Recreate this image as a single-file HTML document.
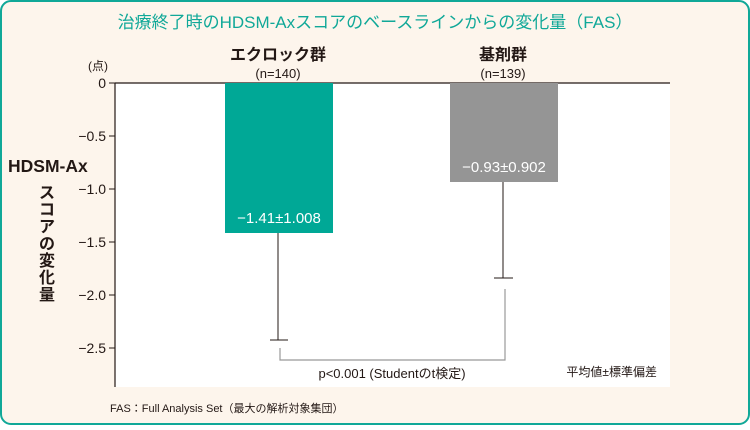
<!DOCTYPE html>
<html><head><meta charset="utf-8"><style>
body{margin:0;width:750px;height:425px;overflow:hidden;background:#fff}
</style></head><body>
<svg width="750" height="425" xmlns="http://www.w3.org/2000/svg" font-family="Liberation Sans, Noto Sans CJK JP, sans-serif">
<rect x="1" y="1" width="748" height="423" rx="10" fill="#fdf5ec" stroke="#10a898" stroke-width="2"/>
<text x="375" y="28" text-anchor="middle" font-size="17" fill="#10a898">治療終了時のHDSM-Axスコアのベースラインからの変化量（FAS）</text>
<rect x="115" y="83" width="555" height="304" fill="#fff"/>
<text x="278" y="60" text-anchor="middle" font-size="16" font-weight="bold" fill="#231815">エクロック群</text>
<text x="278" y="78" text-anchor="middle" font-size="13" fill="#231815">(n=140)</text>
<text x="503" y="60" text-anchor="middle" font-size="16" font-weight="bold" fill="#231815">基剤群</text>
<text x="503" y="78" text-anchor="middle" font-size="13" fill="#231815">(n=139)</text>
<text x="88" y="70" font-size="12" fill="#231815">(点)</text>
<line x1="115" y1="83" x2="670" y2="83" stroke="#231815" stroke-width="1.2"/>
<line x1="115" y1="83" x2="115" y2="387" stroke="#231815" stroke-width="1.2"/>
<g stroke="#231815" stroke-width="1"><line x1="109" y1="83" x2="115" y2="83"/><line x1="109" y1="136" x2="115" y2="136"/><line x1="109" y1="189" x2="115" y2="189"/><line x1="109" y1="242" x2="115" y2="242"/><line x1="109" y1="295" x2="115" y2="295"/><line x1="109" y1="348" x2="115" y2="348"/></g>
<g font-size="14" fill="#231815" text-anchor="end"><text x="106" y="88">0</text><text x="106" y="141">−0.5</text><text x="106" y="194">−1.0</text><text x="106" y="247">−1.5</text><text x="106" y="300">−2.0</text><text x="106" y="353">−2.5</text></g>
<text x="8" y="172" font-size="17.5" font-weight="bold" fill="#231815">HDSM-Ax</text>
<g font-size="16" font-weight="bold" fill="#231815" text-anchor="middle"><text x="47" y="198">ス</text><text x="47" y="215">コ</text><text x="47" y="232">ア</text><text x="47" y="249">の</text><text x="47" y="266">変</text><text x="47" y="283">化</text><text x="47" y="300">量</text></g>
<rect x="225" y="83" width="108" height="150" fill="#00a896"/>
<rect x="450" y="83" width="108" height="99" fill="#959595"/>
<text x="279" y="223" text-anchor="middle" font-size="15" fill="#fff">−1.41±1.008</text>
<text x="504" y="172" text-anchor="middle" font-size="15" fill="#fff">−0.93±0.902</text>
<g stroke="#231815" stroke-width="1"><line x1="278" y1="233" x2="278" y2="340"/><line x1="270" y1="340" x2="288" y2="340"/><line x1="503" y1="182" x2="503" y2="278"/><line x1="494" y1="278" x2="513" y2="278"/></g>
<polyline points="280,348 280,360 505,360 505,289" fill="none" stroke="#999" stroke-width="1.2"/>
<text x="392" y="378" text-anchor="middle" font-size="13" fill="#231815">p&lt;0.001 (Studentのt検定)</text>
<text x="657" y="376" text-anchor="end" font-size="12" fill="#231815">平均値±標準偏差</text>
<text x="110" y="412" font-size="11" fill="#231815">FAS：Full Analysis Set（最大の解析対象集団）</text>
</svg>
</body></html>
